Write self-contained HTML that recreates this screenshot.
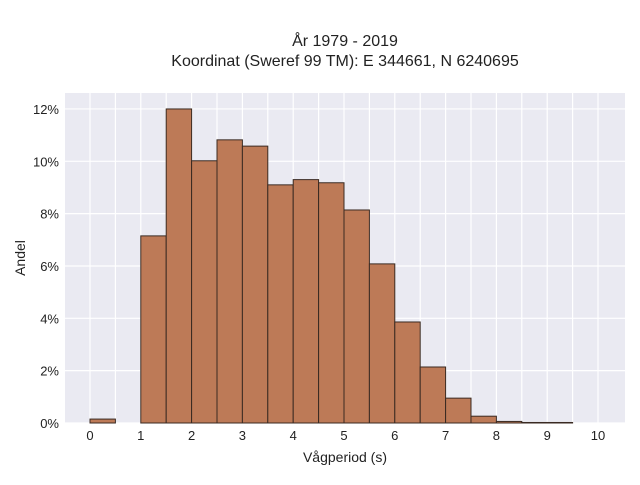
<!DOCTYPE html>
<html><head><meta charset="utf-8"><style>
body{margin:0;background:#fff;}
svg{font-family:"Liberation Sans",sans-serif;}
</style></head><body>
<svg id="chart" width="640" height="480">
<text x="345" y="46" text-anchor="middle" font-size="16" fill="#222">År 1979 - 2019</text>
<text x="345" y="66" text-anchor="middle" font-size="16" fill="#222">Koordinat (Sweref 99 TM): E 344661, N 6240695</text>
<rect x="65" y="93" width="560" height="330" fill="#eaeaf2"/>
<g id="grid"></g><g id="bars"></g><g id="ticks"></g>
<text x="345" y="462" text-anchor="middle" font-size="14" fill="#222">Vågperiod (s)</text>
<text transform="translate(25,258) rotate(-90)" text-anchor="middle" font-size="14" fill="#222">Andel</text>
</svg>
<script>
const binStarts=[0,0.5,1,1.5,2,2.5,3,3.5,4,4.5,5,5.5,6,6.5,7,7.5,8,8.5,9,9.5];
const shares=[0.15,0,7.15,12.0,10.02,10.82,10.58,9.1,9.3,9.18,8.14,6.08,3.86,2.14,0.95,0.26,0.06,0.02,0.02,0];
const xTicks=[0,1,2,3,4,5,6,7,8,9,10];
const yTicks=[0,2,4,6,8,10,12];
const binWidth=0.5;
const NS="http://www.w3.org/2000/svg";
const X=v=>90+v*50.8, Y=v=>423-v*26.17;
const g=document.getElementById('grid'),b=document.getElementById('bars'),t=document.getElementById('ticks');
function mk(tag,attrs,parent){const e=document.createElementNS(NS,tag);for(const k in attrs)e.setAttribute(k,attrs[k]);parent.appendChild(e);return e;}
for(let v=0;v<=10;v+=0.5){const l=mk('line',{x1:X(v),x2:X(v),y1:93,y2:423,stroke:'#fff','stroke-width':1.2},g);

}
yTicks.forEach(v=>{const l=mk('line',{x1:65,x2:625,y1:Y(v),y2:Y(v),stroke:'#fff','stroke-width':1.2},g);


const tx=mk('text',{x:59,y:Y(v)+5,'text-anchor':'end','font-size':13,fill:'#222'},t);tx.textContent=v+'%';

});
xTicks.forEach(v=>{const tx=mk('text',{x:X(v),y:440,'text-anchor':'middle','font-size':13,fill:'#222'},t);tx.textContent=v;

});
binStarts.forEach((s,i)=>{const h=shares[i]*26.17;
const r=mk('rect',{x:X(s),y:Y(shares[i]),width:X(s+binWidth)-X(s),height:h,fill:'#bd7a57',stroke:'#3a2a22','stroke-width':1},b);

});
</script>
</body></html>
